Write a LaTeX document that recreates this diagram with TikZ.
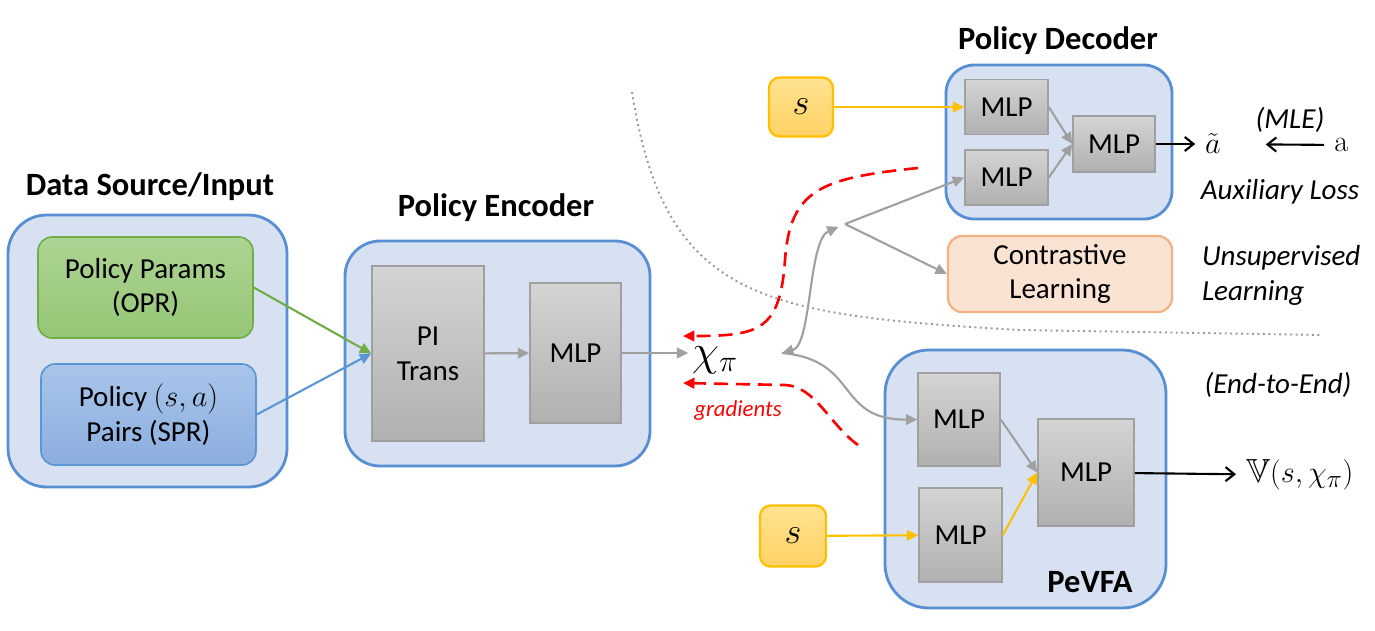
\documentclass[tikz,border=0pt]{standalone}
\usepackage[no-math]{fontspec}
\setmainfont{Carlito}
\usepackage{amsmath,amssymb}
\usetikzlibrary{arrows.meta}
\usetikzlibrary{shapes}

\definecolor{panelFill}{RGB}{216,225,242}
\definecolor{panelLine}{RGB}{88,143,210}
\definecolor{oprTop}{RGB}{172,212,147}
\definecolor{oprBot}{RGB}{150,198,118}
\definecolor{oprLine}{RGB}{112,173,71}
\definecolor{sprTop}{RGB}{168,197,234}
\definecolor{sprBot}{RGB}{140,174,222}
\definecolor{sprLine}{RGB}{91,150,212}
\definecolor{stTop}{RGB}{255,226,145}
\definecolor{stBot}{RGB}{255,210,100}
\definecolor{stLine}{RGB}{255,192,0}
\definecolor{conFill}{RGB}{251,227,212}
\definecolor{conLine}{RGB}{244,177,131}
\definecolor{mlpTop}{RGB}{212,212,212}
\definecolor{mlpBot}{RGB}{176,176,176}
\definecolor{mlpLine}{RGB}{160,160,160}
\definecolor{arrowGray}{RGB}{160,160,160}

\begin{document}
\begin{tikzpicture}
[x=0.02cm,y=-0.02cm,%
  boxSize/.style 2 args={minimum width=#1*0.02cm,minimum height=#2*0.02cm,inner sep=0pt},%
  panelDecorate/.style={draw=panelLine,line width=1.6pt,fill=panelFill,rounded corners=#1},%
  mlpDecorate/.style={draw=mlpLine,line width=0.9pt,top color=mlpTop,bottom color=mlpBot,align=center},%
  oprDecorate/.style={draw=oprLine,line width=0.9pt,top color=oprTop,bottom color=oprBot,rounded corners=8pt,align=center},%
  sprDecorate/.style={draw=sprLine,line width=0.9pt,top color=sprTop,bottom color=sprBot,rounded corners=8pt,align=center},%
  stateDecorate/.style={draw=stLine,line width=1.3pt,top color=stTop,bottom color=stBot,rounded corners=6pt,font=\fontsize{21}{24}\selectfont},%
  conDecorate/.style={draw=conLine,line width=1.3pt,fill=conFill,rounded corners=8pt,align=center},%
  titleDecorate/.style={font=\fontsize{18.5}{22}\selectfont\bfseries},%
  noteDecorate/.style={font=\fontsize{16.5}{20}\selectfont\itshape},%
  mathDecorate/.style={font=\fontsize{19}{22}\selectfont},%
  lineDecorate/.style={draw=arrowGray,line width=1.2pt,-{Triangle[length=6.5pt,width=6pt]}},%
  greenDecorate/.style={lineDecorate,draw=oprLine},%
  blueDecorate/.style={lineDecorate,draw=sprLine},%
  yellowDecorate/.style={lineDecorate,draw=stLine},%
  outDecorate/.style={draw=black,line width=1.2pt,-{Straight Barb[length=5pt,width=8pt]}},%
  gradDecorate/.style={draw=red,line width=1.5pt,dash pattern=on 8pt off 4.5pt,-{Triangle[length=6.5pt,width=6pt]}},%
  sepDecorate/.style={draw=gray!80,line width=1.1pt,dotted}]
\fontsize{16.5}{19.8}\selectfont
\useasboundingbox (0,0) rectangle (1375,630);
%% dotted border between the heads
\draw[sepDecorate] (632,92) .. controls (665,300) and (760,315) .. (1020,330) -- (1322,335);
%% panels and titles
\node[panelDecorate=22pt,boxSize={279}{272}] (data) at (147.5,351) {};
\node[panelDecorate=20pt,boxSize={305}{225}] (enc) at (497.5,353.5) {};
\node[panelDecorate=16pt,boxSize={226}{154}] (dec) at (1059,142) {};
\node[panelDecorate=25pt,boxSize={281}{258}] (pev) at (1025.5,479) {};
\node[titleDecorate] at (150,187) {Data Source/Input};
\node[titleDecorate] at (496,208) {Policy Encoder};
\node[titleDecorate] at (1058,41) {Policy Decoder};
\node[titleDecorate] at (1090,582) {PeVFA};
%% data source
\node[oprDecorate,boxSize={215}{101}] (opr) at (145.5,287.5) {Policy Params\\(OPR)};
\node[sprDecorate,boxSize={215}{101}] (spr) at (148.5,414.5) {Policy $(s,a)$\\Pairs (SPR)};
%% encoder
\node[mlpDecorate,boxSize={112}{175}] (pit) at (428,353.5) {PI\\Trans};
%% all MLP blocks
\foreach \nodename/\x/\y/\w/\h in {
  encmlp/575.5/353/91/140,
  dm1/1006.5/107/83/55, dm2/1006.5/177.5/83/55, dm3/1114/144/82/56,
  pm1/959/419.5/82/93, pm2/960.5/535/83/94, pm3/1086/472.5/96/107}
{
  \node[mlpDecorate,boxSize={\w}{\h}] (\nodename) at (\x,\y) {MLP};
}
%% states, heads and labels
\node[stateDecorate,boxSize={64}{59}] (s1) at (801,107) {$s$};
\node[stateDecorate,boxSize={66}{61}] (s2) at (793,536) {$s$};
\node[conDecorate,boxSize={224}{76}] (con) at (1060,274) {Contrastive\\Learning};
\node[font=\fontsize{24}{26}\selectfont,inner sep=2pt] (chi) at (715,360) {$\chi_\pi$};
\node[mathDecorate] (atilde) at (1213,144) {$\tilde{a}$};
\node[mathDecorate] (aa) at (1341,145) {$\mathrm{a}$};
\node[mathDecorate,anchor=west] (vout) at (1236,475) {$\mathbb{V}(s,\chi_\pi)$};
\node[noteDecorate] (mle) at (1290,120) {(MLE)};
\node[noteDecorate] (aux) at (1280,192) {Auxiliary Loss};
\node[noteDecorate,align=left,anchor=west] (unsup) at (1192,275) {Unsupervised\\Learning};
\node[noteDecorate] (e2e) at (1278,385) {(End-to-End)};
\node[font=\fontsize{13}{15}\selectfont\itshape,text=red] (grad) at (738,411) {gradients};
%% free ends
\coordinate (chiR) at (782,353);
\coordinate (split) at (845,224);
\coordinate (gradTop) at (918,168);
\coordinate (gradTopEnd) at (683,336);
\coordinate (gradBot) at (858,445);
\coordinate (gradBotEnd) at (683,383);
%% connect blocks
\draw[greenDecorate] (opr.east) -- (pit.west);
\draw[blueDecorate] (spr.east) -- (pit.west);
\draw[lineDecorate] (pit) -- (encmlp);
\draw[lineDecorate] (encmlp.east) -- (chi.west |- encmlp.east);
\draw[lineDecorate,{Triangle[length=6.5pt,width=6pt]}-{Triangle[length=6.5pt,width=6pt]},shorten >=4pt]
  (chiR) .. controls (812,345) and (808,240) .. (split);
\draw[lineDecorate] (split) -- (dm2.west);
\draw[lineDecorate] (split) -- (con.west);
\draw[lineDecorate] (chiR) .. controls (860,360) and (835,420) .. (pm1.west);
\draw[yellowDecorate] (s1) -- (dm1);
\draw[lineDecorate] (dm1.east) -- (dm3.west);
\draw[lineDecorate] (dm2.east) -- (dm3.west);
\draw[outDecorate] (dm3) -- (atilde);
\draw[outDecorate,shorten >=0.7cm] (aa) -- (atilde);
\draw[yellowDecorate] (s2) -- (pm2);
\draw[lineDecorate] (pm1.east) -- (pm3.west);
\draw[yellowDecorate] (pm2.east) -- (pm3.west);
\draw[outDecorate] (pm3) -- (vout);
%% gradients
\draw[gradDecorate] (gradTop) .. controls (820,178) and (790,190) .. (785,260)
  .. controls (780,330) and (760,336) .. (gradTopEnd);
\draw[gradDecorate] (gradBot) .. controls (830,425) and (815,386) .. (785,385) -- (gradBotEnd);
\end{tikzpicture}
\end{document}
